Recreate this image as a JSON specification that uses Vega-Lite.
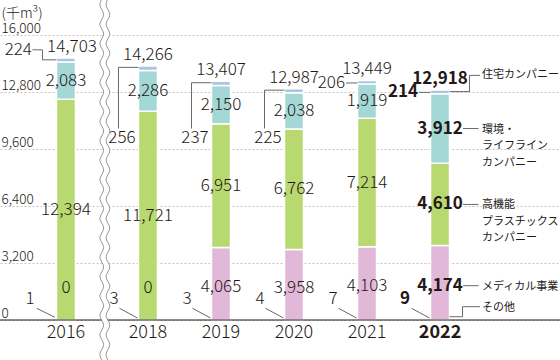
{
  "$schema": "https://vega.github.io/schema/vega-lite/v6.json",
  "width": 560,
  "height": 285,
  "autosize": {"type": "none"},
  "padding": {"left": 0, "right": 0, "top": 35, "bottom": 40},
  "config": {
    "font": "Noto Sans CJK JP",
    "view": {"stroke": null},
    "axis": {"labelFont": "Noto Sans CJK JP", "titleFont": "Noto Sans CJK JP"},
    "text": {"font": "Noto Sans CJK JP", "color": "#231815", "fontSize": 17, "baseline": "middle", "fontWeight": 300},
    "rule": {"color": "#595757", "strokeWidth": 0.9}
  },
  "datasets": {
    "s": [
      {"year": "2016", "cat": "その他", "value": 1},
      {"year": "2016", "cat": "メディカル事業", "value": 0},
      {"year": "2016", "cat": "高機能プラスチックスカンパニー", "value": 12394},
      {"year": "2016", "cat": "環境・ライフラインカンパニー", "value": 2083},
      {"year": "2016", "cat": "住宅カンパニー", "value": 224},
      {"year": "2018", "cat": "その他", "value": 3},
      {"year": "2018", "cat": "メディカル事業", "value": 0},
      {"year": "2018", "cat": "高機能プラスチックスカンパニー", "value": 11721},
      {"year": "2018", "cat": "環境・ライフラインカンパニー", "value": 2286},
      {"year": "2018", "cat": "住宅カンパニー", "value": 256},
      {"year": "2019", "cat": "その他", "value": 3},
      {"year": "2019", "cat": "メディカル事業", "value": 4065},
      {"year": "2019", "cat": "高機能プラスチックスカンパニー", "value": 6951},
      {"year": "2019", "cat": "環境・ライフラインカンパニー", "value": 2150},
      {"year": "2019", "cat": "住宅カンパニー", "value": 237},
      {"year": "2020", "cat": "その他", "value": 4},
      {"year": "2020", "cat": "メディカル事業", "value": 3958},
      {"year": "2020", "cat": "高機能プラスチックスカンパニー", "value": 6762},
      {"year": "2020", "cat": "環境・ライフラインカンパニー", "value": 2038},
      {"year": "2020", "cat": "住宅カンパニー", "value": 225},
      {"year": "2021", "cat": "その他", "value": 7},
      {"year": "2021", "cat": "メディカル事業", "value": 4103},
      {"year": "2021", "cat": "高機能プラスチックスカンパニー", "value": 7214},
      {"year": "2021", "cat": "環境・ライフラインカンパニー", "value": 1919},
      {"year": "2021", "cat": "住宅カンパニー", "value": 206},
      {"year": "2022", "cat": "その他", "value": 9},
      {"year": "2022", "cat": "メディカル事業", "value": 4174},
      {"year": "2022", "cat": "高機能プラスチックスカンパニー", "value": 4610},
      {"year": "2022", "cat": "環境・ライフラインカンパニー", "value": 3912},
      {"year": "2022", "cat": "住宅カンパニー", "value": 214}
    ],
    "totals": [
      {"year": "2016", "total": 14703},
      {"year": "2018", "total": 14266},
      {"year": "2019", "total": 13407},
      {"year": "2020", "total": 12987},
      {"year": "2021", "total": 13449},
      {"year": "2022", "total": 12918}
    ],
    "wave": [
      {"v": 18240, "l": 0.481, "r": 0.569},
      {"v": 17695, "l": 0.427, "r": 0.515},
      {"v": 17150, "l": 0.481, "r": 0.569},
      {"v": 16605, "l": 0.427, "r": 0.515},
      {"v": 16060, "l": 0.481, "r": 0.569},
      {"v": 15515, "l": 0.427, "r": 0.515},
      {"v": 14970, "l": 0.481, "r": 0.569},
      {"v": 14425, "l": 0.427, "r": 0.515},
      {"v": 13880, "l": 0.481, "r": 0.569},
      {"v": 13335, "l": 0.427, "r": 0.515},
      {"v": 12790, "l": 0.481, "r": 0.569},
      {"v": 12245, "l": 0.427, "r": 0.515},
      {"v": 11700, "l": 0.481, "r": 0.569},
      {"v": 11155, "l": 0.427, "r": 0.515},
      {"v": 10610, "l": 0.481, "r": 0.569},
      {"v": 10065, "l": 0.427, "r": 0.515},
      {"v": 9520, "l": 0.481, "r": 0.569},
      {"v": 8975, "l": 0.427, "r": 0.515},
      {"v": 8430, "l": 0.481, "r": 0.569},
      {"v": 7885, "l": 0.427, "r": 0.515},
      {"v": 7340, "l": 0.481, "r": 0.569},
      {"v": 6795, "l": 0.427, "r": 0.515},
      {"v": 6250, "l": 0.481, "r": 0.569},
      {"v": 5705, "l": 0.427, "r": 0.515},
      {"v": 5160, "l": 0.481, "r": 0.569},
      {"v": 4615, "l": 0.427, "r": 0.515},
      {"v": 4070, "l": 0.481, "r": 0.569},
      {"v": 3525, "l": 0.427, "r": 0.515},
      {"v": 2980, "l": 0.481, "r": 0.569},
      {"v": 2435, "l": 0.427, "r": 0.515},
      {"v": 1890, "l": 0.481, "r": 0.569},
      {"v": 1345, "l": 0.427, "r": 0.515},
      {"v": 800, "l": 0.481, "r": 0.569},
      {"v": 255, "l": 0.427, "r": 0.515},
      {"v": -290, "l": 0.481, "r": 0.569},
      {"v": -835, "l": 0.427, "r": 0.515},
      {"v": -1380, "l": 0.481, "r": 0.569},
      {"v": -1925, "l": 0.427, "r": 0.515},
      {"v": -2470, "l": 0.481, "r": 0.569}
    ]
  },
  "resolve": {"scale": {"x": "independent"}},
  "layer": [
    {
      "data": {"name": "s"},
      "transform": [
        {"calculate": "indexof(['その他','メディカル事業','高機能プラスチックスカンパニー','環境・ライフラインカンパニー','住宅カンパニー'], datum.cat)", "as": "ord"},
        {"stack": "value", "groupby": ["year"], "sort": [{"field": "ord", "order": "ascending"}], "as": ["y0", "y1"]},
        {"calculate": "(datum.y0 + datum.y1) / 2", "as": "mid"},
        {"calculate": "datum.cat === 'メディカル事業' ? max(datum.mid, 1980) - 170 : datum.mid", "as": "ly"},
        {"calculate": "datum.cat === '環境・ライフラインカンパニー' ? '環境・\\nライフライン\\nカンパニー' : (datum.cat === '高機能プラスチックスカンパニー' ? '高機能\\nプラスチックス\\nカンパニー' : datum.cat)", "as": "lab"},
        {"calculate": "datum.cat === 'メディカル事業' || datum.cat === '高機能プラスチックスカンパニー' || datum.cat === '環境・ライフラインカンパニー'", "as": "mainSeg"},
        {"lookup": "year", "from": {"data": {"name": "totals"}, "key": "year", "fields": ["total"]}}
      ],
      "layer": [
        {
          "transform": [{"filter": "datum.year !== '2016'"}],
          "mark": {"type": "bar", "stroke": "white", "strokeWidth": 1.5},
          "encoding": {
            "x": {
              "field": "year", "type": "nominal",
              "scale": {"type": "band", "domain": ["2016", "2018", "2019", "2020", "2021", "2022", " "], "paddingInner": 0.7397, "paddingOuter": 0.705, "align": 0.636},
              "axis": {
                "title": null, "labelAngle": 0, "domain": false, "ticks": false, "grid": false,
                "labelPadding": 3, "labelFontSize": 18, "labelColor": "#231815",
                "labelOffset": {"condition": {"test": "datum.value === '2016'", "value": -9}, "value": 0},
                "labelFontWeight": {"condition": {"test": "datum.value === '2022'", "value": "bold"}, "value": 300}
              }
            },
            "y": {
              "field": "y0", "type": "quantitative",
              "scale": {"domain": [0, 16000]},
              "axis": {
                "values": [0, 3200, 6400, 9600, 12800, 16000], "format": ",.0f",
                "title": "(千m³)", "titleAngle": 0, "titleAlign": "left", "titleBaseline": "top",
                "titleX": 1, "titleY": -29, "titleFontSize": 14, "titleFontWeight": 300, "titleColor": "#231815",
                "labelAlign": "left", "labelBaseline": "alphabetic", "labelPadding": -1, "labelOffset": -3,
                "labelFlush": false, "labelOverlap": false,
                "ticks": false, "tickSize": 0, "domain": false,
                "grid": true, "gridDash": [2, 2], "gridColor": "#b5b5b6", "gridWidth": 0.8,
                "labelFontSize": 13.5, "labelFontWeight": 300, "labelColor": "#231815"
              }
            },
            "y2": {"field": "y1"},
            "color": {
              "field": "cat", "type": "nominal",
              "scale": {
                "domain": ["その他", "メディカル事業", "高機能プラスチックスカンパニー", "環境・ライフラインカンパニー", "住宅カンパニー"],
                "range": ["#cccccc", "#e2b8d8", "#b8d870", "#a4d8d6", "#a8c4e6"]
              },
              "legend": null
            }
          }
        },
        {
          "transform": [{"filter": "datum.year === '2016'"}],
          "mark": {"type": "bar", "stroke": "white", "strokeWidth": 1.5, "xOffset": -9},
          "encoding": {
            "x": {"field": "year", "type": "nominal"},
            "y": {"field": "y0", "type": "quantitative"},
            "y2": {"field": "y1"},
            "color": {"field": "cat", "type": "nominal", "legend": null}
          }
        },
        {
          "transform": [{"filter": "datum.mainSeg && datum.year !== '2022' && datum.year !== '2016'"}],
          "mark": {"type": "text"},
          "encoding": {
            "x": {"field": "year", "type": "nominal"},
            "y": {"field": "ly", "type": "quantitative"},
            "text": {"field": "value", "type": "quantitative", "format": ","}
          }
        },
        {
          "transform": [{"filter": "datum.mainSeg && datum.year === '2016'"}],
          "mark": {"type": "text", "dx": -9},
          "encoding": {
            "x": {"field": "year", "type": "nominal"},
            "y": {"field": "ly", "type": "quantitative"},
            "text": {"field": "value", "type": "quantitative", "format": ","}
          }
        },
        {
          "transform": [{"filter": "datum.mainSeg && datum.year === '2022'"}],
          "mark": {"type": "text", "fontWeight": "bold"},
          "encoding": {
            "x": {"field": "year", "type": "nominal"},
            "y": {"field": "ly", "type": "quantitative"},
            "text": {"field": "value", "type": "quantitative", "format": ","}
          }
        },
        {
          "transform": [{"filter": "datum.year === '2016' && datum.cat === 'その他'"}],
          "mark": {"type": "rule", "color": "#231815", "strokeWidth": 1.2},
          "encoding": {"y": {"datum": 0, "type": "quantitative"}}
        },
        {
          "transform": [{"filter": "datum.cat === 'その他' && datum.year !== '2022' && datum.year !== '2016'"}],
          "mark": {"type": "text", "dx": -34, "dy": -21},
          "encoding": {
            "x": {"field": "year", "type": "nominal"},
            "y": {"field": "y0", "type": "quantitative"},
            "text": {"field": "value", "type": "quantitative", "format": ","}
          }
        },
        {
          "transform": [{"filter": "datum.cat === 'その他' && datum.year === '2016'"}],
          "mark": {"type": "text", "dx": -45, "dy": -21},
          "encoding": {
            "x": {"field": "year", "type": "nominal"},
            "y": {"field": "y0", "type": "quantitative"},
            "text": {"field": "value", "type": "quantitative", "format": ","}
          }
        },
        {
          "transform": [{"filter": "datum.cat === 'その他' && datum.year === '2022'"}],
          "mark": {"type": "text", "dx": -35, "dy": -21, "fontWeight": "bold"},
          "encoding": {
            "x": {"field": "year", "type": "nominal"},
            "y": {"field": "y0", "type": "quantitative"},
            "text": {"field": "value", "type": "quantitative", "format": ","}
          }
        },
        {
          "transform": [{"filter": "datum.cat === 'その他' && datum.year !== '2016'"}],
          "mark": {"type": "rule", "xOffset": -28.5, "x2Offset": -10.5, "yOffset": -11.7, "y2Offset": -2},
          "encoding": {
            "x": {"field": "year", "type": "nominal"}, "x2": {"field": "year"},
            "y": {"field": "y0", "type": "quantitative"}, "y2": {"field": "y0"}
          }
        },
        {
          "transform": [{"filter": "datum.cat === 'その他' && datum.year === '2016'"}],
          "mark": {"type": "rule", "xOffset": -38.3, "x2Offset": -20, "yOffset": -11.7, "y2Offset": -2.7},
          "encoding": {
            "x": {"field": "year", "type": "nominal"}, "x2": {"field": "year"},
            "y": {"field": "y0", "type": "quantitative"}, "y2": {"field": "y0"}
          }
        },
        {
          "transform": [{"filter": "datum.cat === '住宅カンパニー' && datum.year !== '2022' && datum.year !== '2016'"}],
          "mark": {"type": "text", "dy": -11},
          "encoding": {
            "x": {"field": "year", "type": "nominal"},
            "y": {"field": "total", "type": "quantitative"},
            "text": {"field": "total", "type": "quantitative", "format": ","}
          }
        },
        {
          "transform": [{"filter": "datum.cat === '住宅カンパニー' && datum.year === '2016'"}],
          "mark": {"type": "text", "dy": -11, "dx": -3},
          "encoding": {
            "x": {"field": "year", "type": "nominal"},
            "y": {"field": "total", "type": "quantitative"},
            "text": {"field": "total", "type": "quantitative", "format": ","}
          }
        },
        {
          "transform": [{"filter": "datum.cat === '住宅カンパニー' && datum.year === '2022'"}],
          "mark": {"type": "text", "dy": -11, "fontWeight": "bold"},
          "encoding": {
            "x": {"field": "year", "type": "nominal"},
            "y": {"field": "total", "type": "quantitative"},
            "text": {"field": "total", "type": "quantitative", "format": ","}
          }
        },
        {
          "transform": [{"filter": "datum.cat === '住宅カンパニー' && datum.year === '2016'"}],
          "mark": {"type": "text", "align": "right", "dx": -43, "dy": -8.3},
          "encoding": {
            "x": {"field": "year", "type": "nominal"},
            "y": {"field": "y1", "type": "quantitative"},
            "text": {"field": "value", "type": "quantitative", "format": ","}
          }
        },
        {
          "transform": [{"filter": "datum.cat === '住宅カンパニー' && datum.year === '2016'"}],
          "mark": {"type": "rule", "xOffset": -42.5, "x2Offset": -32.5, "yOffset": -8.3, "y2Offset": -8.3},
          "encoding": {
            "x": {"field": "year", "type": "nominal"}, "x2": {"field": "year"},
            "y": {"field": "y1", "type": "quantitative"}, "y2": {"field": "y1"}
          }
        },
        {
          "transform": [{"filter": "datum.cat === '住宅カンパニー' && datum.year === '2016'"}],
          "mark": {"type": "rule", "xOffset": -32.5, "yOffset": -8.3, "y2Offset": 1.7},
          "encoding": {
            "x": {"field": "year", "type": "nominal"},
            "y": {"field": "y1", "type": "quantitative"}, "y2": {"field": "y1"}
          }
        },
        {
          "transform": [{"filter": "datum.cat === '住宅カンパニー' && datum.year === '2016'"}],
          "mark": {"type": "rule", "xOffset": -32.5, "x2Offset": -18.5, "yOffset": 1.7, "y2Offset": 1.7},
          "encoding": {
            "x": {"field": "year", "type": "nominal"}, "x2": {"field": "year"},
            "y": {"field": "y1", "type": "quantitative"}, "y2": {"field": "y1"}
          }
        },
        {
          "transform": [{"filter": "datum.cat === '住宅カンパニー' && indexof(['2018','2019','2020'], datum.year) >= 0"}],
          "mark": {"type": "rule", "xOffset": -29.5, "x2Offset": -9.5, "yOffset": 1.5, "y2Offset": 1.5},
          "encoding": {
            "x": {"field": "year", "type": "nominal"}, "x2": {"field": "year"},
            "y": {"field": "y1", "type": "quantitative"}, "y2": {"field": "y1"}
          }
        },
        {
          "transform": [{"filter": "datum.cat === '住宅カンパニー' && indexof(['2018','2019','2020'], datum.year) >= 0"}],
          "mark": {"type": "rule", "xOffset": -29.5, "yOffset": 1.5},
          "encoding": {
            "x": {"field": "year", "type": "nominal"},
            "y": {"field": "y1", "type": "quantitative"}, "y2": {"datum": 10750}
          }
        },
        {
          "transform": [{"filter": "datum.cat === '住宅カンパニー' && indexof(['2018','2019','2020'], datum.year) >= 0"}],
          "mark": {"type": "text", "dx": -26},
          "encoding": {
            "x": {"field": "year", "type": "nominal"},
            "y": {"datum": 10200, "type": "quantitative"},
            "text": {"field": "value", "type": "quantitative", "format": ","}
          }
        },
        {
          "transform": [{"filter": "datum.cat === '住宅カンパニー' && datum.year === '2021'"}],
          "mark": {"type": "text", "align": "right", "dx": -22, "dy": 2.5},
          "encoding": {
            "x": {"field": "year", "type": "nominal"},
            "y": {"field": "y1", "type": "quantitative"},
            "text": {"field": "value", "type": "quantitative", "format": ","}
          }
        },
        {
          "transform": [{"filter": "datum.cat === '住宅カンパニー' && datum.year === '2022'"}],
          "mark": {"type": "text", "align": "right", "dx": -22, "dy": 2.5, "fontWeight": "bold"},
          "encoding": {
            "x": {"field": "year", "type": "nominal"},
            "y": {"field": "y1", "type": "quantitative"},
            "text": {"field": "value", "type": "quantitative", "format": ","}
          }
        },
        {
          "transform": [{"filter": "datum.cat === '住宅カンパニー' && (datum.year === '2021' || datum.year === '2022')"}],
          "mark": {"type": "rule", "xOffset": -21, "x2Offset": -9.5, "yOffset": 2.5, "y2Offset": 2.5},
          "encoding": {
            "x": {"field": "year", "type": "nominal"}, "x2": {"field": "year"},
            "y": {"field": "y1", "type": "quantitative"}, "y2": {"field": "y1"}
          }
        },
        {
          "transform": [{"filter": "datum.cat === '住宅カンパニー' && datum.year === '2022'"}],
          "mark": {"type": "rule", "xOffset": 9.5, "x2Offset": 29.5, "yOffset": 1.7, "y2Offset": 1.7},
          "encoding": {
            "x": {"field": "year", "type": "nominal"}, "x2": {"field": "year"},
            "y": {"field": "y1", "type": "quantitative"}, "y2": {"field": "y1"}
          }
        },
        {
          "transform": [{"filter": "datum.cat === '住宅カンパニー' && datum.year === '2022'"}],
          "mark": {"type": "rule", "xOffset": 29.5, "yOffset": 1.7, "y2Offset": -14.5},
          "encoding": {
            "x": {"field": "year", "type": "nominal"},
            "y": {"field": "y1", "type": "quantitative"}, "y2": {"field": "y1"}
          }
        },
        {
          "transform": [{"filter": "datum.cat === '住宅カンパニー' && datum.year === '2022'"}],
          "mark": {"type": "rule", "xOffset": 29.5, "x2Offset": 40, "yOffset": -14.5, "y2Offset": -14.5},
          "encoding": {
            "x": {"field": "year", "type": "nominal"}, "x2": {"field": "year"},
            "y": {"field": "y1", "type": "quantitative"}, "y2": {"field": "y1"}
          }
        },
        {
          "transform": [{"filter": "datum.cat === '住宅カンパニー' && datum.year === '2022'"}],
          "mark": {"type": "text", "align": "left", "dx": 42, "dy": -14.5, "fontSize": 11, "fontWeight": "normal", "letterSpacing": -1.2},
          "encoding": {
            "x": {"field": "year", "type": "nominal"},
            "y": {"field": "y1", "type": "quantitative"},
            "text": {"field": "cat", "type": "nominal"}
          }
        },
        {
          "transform": [{"filter": "datum.year === '2022' && datum.mainSeg"}],
          "mark": {"type": "rule", "xOffset": 23, "x2Offset": 38.5},
          "encoding": {
            "x": {"field": "year", "type": "nominal"}, "x2": {"field": "year"},
            "y": {"field": "ly", "type": "quantitative"}, "y2": {"field": "ly"}
          }
        },
        {
          "transform": [{"filter": "datum.year === '2022' && datum.mainSeg"}],
          "mark": {"type": "text", "align": "left", "baseline": "top", "dx": 42, "dy": -5, "fontSize": 11, "fontWeight": "normal", "letterSpacing": -1.2, "lineHeight": 16.5, "lineBreak": "\n"},
          "encoding": {
            "x": {"field": "year", "type": "nominal"},
            "y": {"field": "ly", "type": "quantitative"},
            "text": {"field": "lab", "type": "nominal"}
          }
        },
        {
          "transform": [{"filter": "datum.cat === 'その他' && datum.year === '2022'"}],
          "mark": {"type": "rule", "xOffset": 9.5, "x2Offset": 22.5, "yOffset": -3.3, "y2Offset": -3.3},
          "encoding": {
            "x": {"field": "year", "type": "nominal"}, "x2": {"field": "year"},
            "y": {"field": "y0", "type": "quantitative"}, "y2": {"field": "y0"}
          }
        },
        {
          "transform": [{"filter": "datum.cat === 'その他' && datum.year === '2022'"}],
          "mark": {"type": "rule", "xOffset": 22.5, "yOffset": -3.3, "y2Offset": -13.3},
          "encoding": {
            "x": {"field": "year", "type": "nominal"},
            "y": {"field": "y0", "type": "quantitative"}, "y2": {"field": "y0"}
          }
        },
        {
          "transform": [{"filter": "datum.cat === 'その他' && datum.year === '2022'"}],
          "mark": {"type": "rule", "xOffset": 22.5, "x2Offset": 40, "yOffset": -13.3, "y2Offset": -13.3},
          "encoding": {
            "x": {"field": "year", "type": "nominal"}, "x2": {"field": "year"},
            "y": {"field": "y0", "type": "quantitative"}, "y2": {"field": "y0"}
          }
        },
        {
          "transform": [{"filter": "datum.cat === 'その他' && datum.year === '2022'"}],
          "mark": {"type": "text", "align": "left", "dx": 42, "dy": -12.5, "fontSize": 11, "fontWeight": "normal", "letterSpacing": -1.2},
          "encoding": {
            "x": {"field": "year", "type": "nominal"},
            "y": {"field": "y0", "type": "quantitative"},
            "text": {"field": "cat", "type": "nominal"}
          }
        }
      ]
    },
    {
      "data": {"name": "wave"},
      "layer": [
        {
          "mark": {"type": "area", "orient": "horizontal", "color": "white", "interpolate": "cardinal", "clip": false},
          "encoding": {
            "y": {"field": "v", "type": "quantitative", "scale": {"domain": [0, 16000]}},
            "x": {"field": "l", "type": "quantitative", "scale": {"domain": [-0.9707, 6.7005]}, "axis": null},
            "x2": {"field": "r"}
          }
        },
        {
          "mark": {"type": "line", "color": "#8a8a8a", "strokeWidth": 0.9, "interpolate": "cardinal", "clip": false},
          "encoding": {
            "y": {"field": "v", "type": "quantitative"},
            "x": {"field": "l", "type": "quantitative", "axis": null},
            "order": {"field": "v", "type": "quantitative"}
          }
        },
        {
          "mark": {"type": "line", "color": "#8a8a8a", "strokeWidth": 0.9, "interpolate": "cardinal", "clip": false},
          "encoding": {
            "y": {"field": "v", "type": "quantitative"},
            "x": {"field": "r", "type": "quantitative", "axis": null},
            "order": {"field": "v", "type": "quantitative"}
          }
        }
      ]
    }
  ]
}
